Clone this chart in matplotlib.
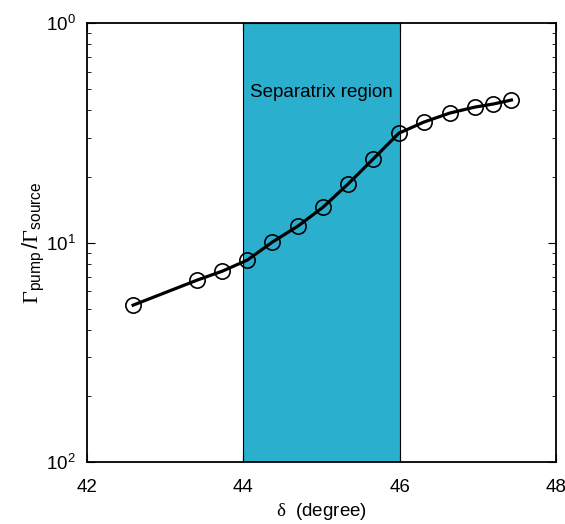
import numpy as np
import matplotlib.pyplot as plt

plt.rcParams['font.family'] = ['Liberation Sans', 'DejaVu Sans']
plt.rcParams['mathtext.fontset'] = 'custom'
plt.rcParams['mathtext.rm'] = 'Liberation Sans'
plt.rcParams['mathtext.sf'] = 'Liberation Sans'
plt.rcParams['mathtext.it'] = 'Liberation Serif'
plt.rcParams['mathtext.cal'] = 'Liberation Serif'

# data
delta = [42.59, 43.41, 43.73, 44.05, 44.37, 44.70, 45.02, 45.34, 45.66,
         45.99, 46.31, 46.64, 46.96, 47.20, 47.43]
ratio = [0.0519, 0.0675, 0.0741, 0.0832, 0.1005, 0.119, 0.145, 0.185, 0.240,
         0.315, 0.354, 0.389, 0.414, 0.428, 0.446]
region = [44, 46]
ytick_vals = [1e-2, 1e-1, 1e0]
ytick_labels = [r'$\mathrm{10^2}$', r'$\mathrm{10^1}$', r'$\mathrm{10^0}$']

fig = plt.figure(figsize=(5.65, 5.24), dpi=100)
ax = fig.add_axes([0.154, 0.118, 0.830, 0.838])

ax.axvspan(region[0], region[1], facecolor='#2bafcf', edgecolor='black', lw=0.8, zorder=1)
ax.text(45.0, 0.485, 'Separatrix region', ha='center', va='center', fontsize=13.5, zorder=3)

ax.plot(delta, ratio, color='black', lw=2.3, zorder=4)
ax.plot(delta, ratio, 'o', mfc='none', mec='black', mew=1.2, ms=11, zorder=5)

ax.set_yscale('log')
ax.set_xlim(42, 48)
ax.set_ylim(1e-2, 1e0)
ax.set_xticks([42, 44, 46, 48])
ax.set_yticks(ytick_vals)
ax.set_yticklabels(ytick_labels)
ax.tick_params(which='both', direction='in', top=True, right=True, labelsize=13.5)
ax.tick_params(which='major', length=6)
ax.tick_params(which='minor', length=3)
ax.tick_params(axis='x', pad=12)
ax.tick_params(axis='y', pad=8)
for s in ax.spines.values():
    s.set_linewidth(1.3)

ax.set_xlabel(r'$\delta$  (degree)', fontsize=13.5, labelpad=4)
ax.set_ylabel(r'$\mathcal{\Gamma}_{\mathrm{pump}}\,/\mathcal{\Gamma}_{\mathrm{source}}$', fontsize=16, labelpad=0)

fig.savefig('out.png', dpi=100)
